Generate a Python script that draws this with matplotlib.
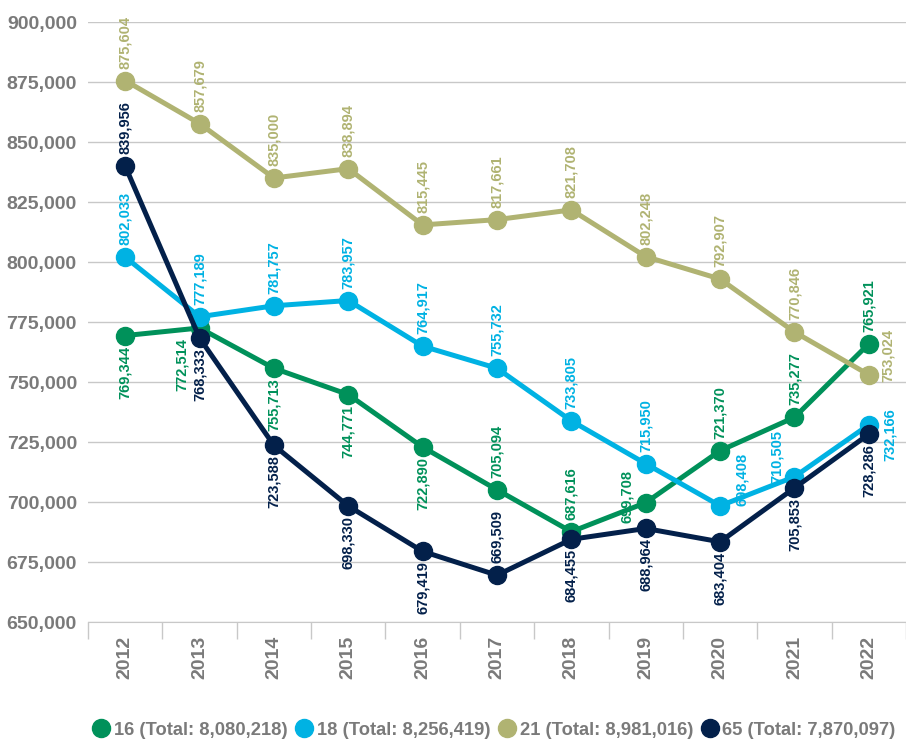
import matplotlib
matplotlib.use('Agg')
import matplotlib.pyplot as plt
from matplotlib.lines import Line2D
from matplotlib.ticker import FuncFormatter, FixedLocator

plt.rcParams['font.family'] = ['Liberation Sans', 'DejaVu Sans']
plt.rcParams['font.weight'] = 'bold'

years = ['2012', '2013', '2014', '2015', '2016', '2017', '2018', '2019', '2020', '2021', '2022']
series_names = ['16', '18', '21', '65']
totals = ['8,080,218', '8,256,419', '8,981,016', '7,870,097']

age16 = [769344, 772514, 755713, 744771, 722890, 705094, 687616, 699708, 721370, 735277, 765921]
age18 = [802033, 777189, 781757, 783957, 764917, 755732, 733805, 715950, 698408, 710505, 732166]
age21 = [875604, 857679, 835000, 838894, 815445, 817661, 821708, 802248, 792907, 770846, 753024]
age65 = [839956, 768333, 723588, 698330, 679419, 669509, 684455, 688964, 683404, 705853, 728286]

colors = ['#00915A', '#00B2E3', '#B0B372', '#03204A']
grey = '#7A7A7A'

# label placement per point: (mode, dx px, dy px); mode a=above, b=below, c=centred
px = 0.72
place = {
    '16': ['b', ('b', -18, 0), 'b', 'b', 'b', 'a', 'a', ('c', -19, 6), 'a', 'a', 'a'],
    '18': ['a', 'a', 'a', 'a', 'a', 'a', 'a', 'a', ('c', 22, 26), ('c', -18, 20), ('c', 21, -10)],
    '21': ['a'] * 10 + [('c', 19, 19)],
    '65': ['a', 'b', 'b', 'b', 'b', 'a', 'b', 'b', 'b', 'b', 'b'],
}

fig = plt.figure(figsize=(9.06, 7.42), dpi=100)
ax = fig.add_axes([88 / 906, 120 / 742, 818 / 906, 600 / 742])

x = list(range(len(years)))
data = [age16, age18, age21, age65]
for name, vals, col in zip(series_names, data, colors):
    ax.plot(x, vals, color=col, lw=3.6, marker='o', markersize=13, zorder=3)
    for i, v in enumerate(vals):
        p = place[name][i]
        if isinstance(p, str):
            p = (p, 0, 0)
        mode, dx, dy = p
        if mode == 'a':
            off, va = (dx * px, 12 * px), 'bottom'
        elif mode == 'b':
            off, va = (dx * px, -10 * px), 'top'
        else:
            off, va = (dx * px, dy * px), 'center'
        ax.annotate(f'{v:,}', (i, v), xytext=off, textcoords='offset points',
                    rotation=90, ha='center', va=va, color=col,
                    fontsize=10.5, fontweight='bold', zorder=4)

ax.set_xlim(-0.5, len(years) - 0.5)
ax.set_ylim(650000, 900000)
ax.set_yticks(range(650000, 900001, 25000))
ax.yaxis.set_major_formatter(FuncFormatter(lambda v, p: f'{int(v):,}'))
ax.tick_params(axis='y', length=0, pad=8, labelsize=14, labelcolor=grey)
ax.set_xticks(x)
ax.set_xticklabels(years, rotation=90, fontsize=14, color=grey, fontweight='bold')
ax.tick_params(axis='x', which='major', length=0, pad=10)
ax.xaxis.set_minor_locator(FixedLocator([i - 0.5 for i in range(len(years) + 1)]))
ax.tick_params(axis='x', which='minor', length=12, color='#C8C8C8', width=1)
for lab in ax.get_yticklabels():
    lab.set_fontweight('bold')

ax.grid(axis='y', color='#C8C8C8', lw=1)
ax.set_axisbelow(True)
for s in ['top', 'right', 'left']:
    ax.spines[s].set_visible(False)
ax.spines['bottom'].set_color('#C8C8C8')

handles = [Line2D([], [], ls='none', marker='o', markersize=13, color=c) for c in colors]
labels = [f'{n} (Total: {t})' for n, t in zip(series_names, totals)]
leg = fig.legend(handles, labels, loc='lower center', bbox_to_anchor=(0.545, -0.013),
                 ncol=4, frameon=False, fontsize=13.2, handletextpad=0.2,
                 columnspacing=0.4, handlelength=1.0, borderpad=0.2)
for t in leg.get_texts():
    t.set_color(grey)
    t.set_fontweight('bold')

fig.savefig('out.png', dpi=100)
